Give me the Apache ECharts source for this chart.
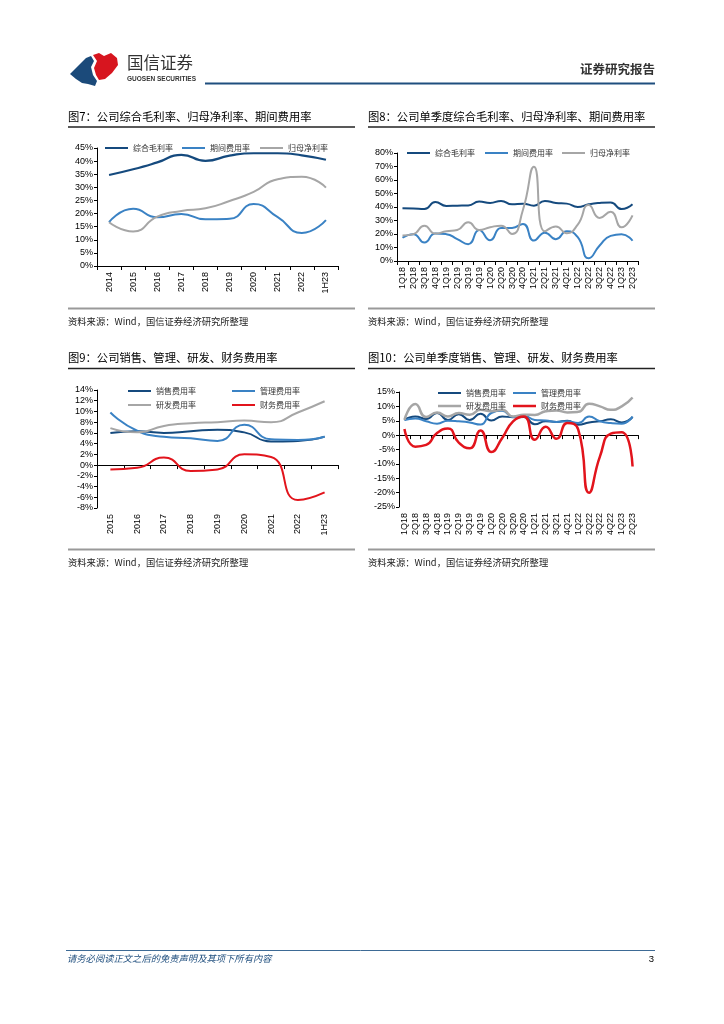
<!DOCTYPE html>
<html>
<head>
<meta charset="utf-8">
<script src="https://cdn.jsdelivr.net/npm/echarts@6/dist/echarts.min.js"></script>
<style>
html,body{margin:0;padding:0;background:#fff;}
#c{width:724px;height:1024px;}
</style>
</head>
<body>
<div id="c"></div>
<script>
// ---- Data ----
const cat7 = ['2014','2015','2016','2017','2018','2019','2020','2021','2022','1H23'];
const gross7 = [34.7, 36.9, 39.5, 42.4, 40.1, 42.1, 43.0, 43.0, 42.2, 40.5];
const expense7 = [16.7, 21.8, 18.6, 19.8, 17.8, 18.0, 23.6, 18.6, 12.6, 17.5];
const net7 = [16.7, 13.2, 18.8, 21.0, 22.0, 24.8, 28.3, 33.1, 34.0, 29.9];

const cat8 = ['1Q18','2Q18','3Q18','4Q18','1Q19','2Q19','3Q19','4Q19','1Q20','2Q20','3Q20','4Q20','1Q21','2Q21','3Q21','4Q21','1Q22','2Q22','3Q22','4Q22','1Q23','2Q23'];
const gross8 = [39.0, 38.8, 38.5, 43.7, 40.8, 41.0, 41.2, 44.0, 43.0, 44.5, 42.0, 42.5, 41.0, 44.5, 43.0, 42.5, 40.0, 42.0, 43.0, 43.3, 38.5, 42.0];
const expense8 = [17.2, 19.9, 13.7, 20.3, 19.9, 16.2, 12.5, 23.0, 15.4, 24.5, 24.5, 27.5, 15.2, 21.0, 16.2, 22.0, 17.6, 2.0, 11.5, 18.6, 19.9, 15.0];
const net8 = [18.9, 19.9, 26.2, 20.3, 22.0, 23.0, 28.7, 23.0, 25.0, 26.2, 20.0, 38.0, 69.8, 22.0, 25.5, 20.6, 27.0, 41.4, 31.9, 36.5, 25.0, 33.8];

const cat9 = ['2015','2016','2017','2018','2019','2020','2021','2022','1H23'];
const sales9 = [6.0, 6.3, 6.0, 6.3, 6.6, 6.1, 4.4, 4.5, 5.3];
const admin9 = [9.8, 6.4, 5.3, 5.0, 4.5, 7.5, 4.8, 4.7, 5.3];
const rd9 = [6.9, 6.1, 7.3, 7.8, 8.0, 8.3, 8.0, 9.8, 11.9];
const fin9 = [-0.8, -0.5, 1.4, -1.1, -0.8, 2.0, 1.5, -6.5, -5.1];

const cat10 = cat8;
const sales10 = [5.3, 6.5, 5.6, 7.7, 5.3, 7.3, 5.3, 7.4, 5.1, 6.5, 6.2, 6.3, 3.8, 4.8, 4.6, 5.0, 3.6, 4.4, 4.8, 5.5, 4.4, 6.3];
const admin10 = [5.2, 5.8, 4.8, 4.0, 5.0, 4.8, 4.4, 3.7, 7.7, 8.5, 6.3, 6.7, 5.3, 5.1, 4.6, 4.8, 4.2, 6.5, 4.8, 4.2, 4.0, 6.5];
const rd10 = [5.3, 10.8, 6.3, 7.9, 6.5, 7.7, 7.1, 8.8, 8.3, 8.8, 6.5, 7.1, 7.0, 8.3, 8.6, 7.9, 8.1, 10.9, 10.0, 8.8, 10.0, 13.1];
const fin10 = [2.1, -4.0, -3.4, 0.7, 2.3, -2.6, -4.6, 1.6, -5.9, -1.0, 4.8, 6.5, -1.6, 2.9, -1.3, 4.2, 1.9, -20.0, -7.4, 0.5, 1.0, -10.9];

// ---- Style ----
const C_DARK = '#154a7e', C_MID = '#3a82c4', C_GRAY = '#a6a6a6', C_RED = '#e2141c';
const AX_FONT = {fontFamily: 'Liberation Sans, Arial', fontSize: 9, color: '#000'};
const CJK = 'Noto Sans CJK SC';

const chart = echarts.init(document.getElementById('c'), null, {renderer: 'canvas'});

function grid(l, t, w, h) {
  return {left: l, top: t, width: w, height: h, containLabel: false, outerBoundsMode: 'none'};
}
function yAx(gi, min, max, interval) {
  return {
    type: 'value', gridIndex: gi, min: min, max: max, interval: interval,
    axisLine: {show: true, lineStyle: {color: '#000', width: 1}},
    axisTick: {show: true, length: 3, lineStyle: {color: '#000'}},
    splitLine: {show: false},
    axisLabel: Object.assign({formatter: '{value}%', margin: 4}, AX_FONT)
  };
}
function xAx(gi, data, withLabels, withLine, onZero) {
  return {
    type: 'category', gridIndex: gi, data: data, boundaryGap: true, position: 'bottom',
    axisLine: {show: withLine, onZero: onZero, lineStyle: {color: '#000', width: 1}},
    axisTick: {show: withLine, length: 4, lineStyle: {color: '#000'}},
    axisLabel: Object.assign({show: withLabels, rotate: 90, margin: 6, interval: 0}, AX_FONT),
    splitLine: {show: false}
  };
}
function ser(name, data, color, xi, yi, width) {
  return {
    type: 'line', name: name, data: data, xAxisIndex: xi, yAxisIndex: yi,
    smooth: 0.55, symbol: 'none', showSymbol: false,
    lineStyle: {color: color, width: width || 2}, itemStyle: {color: color},
    emphasis: {disabled: true}, z: 3
  };
}
function leg(name, left, cy, color, width) {
  const h = width || 2;
  return {
    data: [{name: name, icon: 'rect', itemStyle: {color: color, opacity: 1}}],
    left: left, top: cy - 4, itemWidth: 23, itemHeight: h,
    padding: 0, itemGap: 0, selectedMode: false,
    textStyle: {fontFamily: CJK, fontSize: 8, color: '#333', padding: [0, 0, 0, 0]}
  };
}

function txt(x, y, s, size, opts) {
  return {
    type: 'text', x: x, y: y,
    style: Object.assign({text: s, fontSize: size, fontFamily: CJK, fill: '#000', verticalAlign: 'middle', align: 'left'}, opts || {})
  };
}
function line(x1, y1, x2, y2, color, w) {
  return {type: 'line', shape: {x1: x1, y1: y1, x2: x2, y2: y2}, style: {stroke: color, lineWidth: w}};
}

const graphics = [
  // logo
  {type: 'polygon', shape: {points: [[70,74],[78,66],[86,58],[91,56],[94,61],[91,67],[93,75],[97,81],[95,86],[88,84],[82,83],[76,79]]}, style: {fill: '#1b4a7a'}},
  {type: 'polygon', shape: {points: [[93,55],[99,53],[104,56],[111,53],[117,58],[118,65],[112,73],[105,79],[99,80],[96,75],[94,68],[97,61]]}, style: {fill: '#d7151f'}},
  txt(127, 63, '国信证券', 16.5, {fill: '#333'}),
  txt(127, 79, 'GUOSEN SECURITIES', 6.5, {fill: '#333', fontFamily: 'Liberation Sans, Arial', fontWeight: 'bold'}),
  txt(655, 69, '证券研究报告', 12.5, {fill: '#333', align: 'right', fontWeight: 'bold'}),
  line(205, 83.5, 655, 83.5, '#1f4e7e', 2),

  // chart titles
  txt(68, 117, '图7：公司综合毛利率、归母净利率、期间费用率', 11.3),
  txt(368, 117, '图8：公司单季度综合毛利率、归母净利率、期间费用率', 11.3),
  line(68, 127, 355, 127, '#222', 1.5),
  line(368, 127, 655, 127, '#222', 1.5),
  txt(68, 358, '图9：公司销售、管理、研发、财务费用率', 11.3),
  txt(368, 358, '图10：公司单季度销售、管理、研发、财务费用率', 11.3),
  line(68, 368.5, 355, 368.5, '#222', 1.5),
  line(368, 368.5, 655, 368.5, '#222', 1.5),

  // source lines
  line(68, 308.5, 355, 308.5, '#999', 2),
  line(368, 308.5, 655, 308.5, '#999', 2),
  txt(68, 321, '资料来源：Wind，国信证券经济研究所整理', 9.3, {fill: '#222'}),
  txt(368, 321, '资料来源：Wind，国信证券经济研究所整理', 9.3, {fill: '#222'}),
  line(68, 549.5, 355, 549.5, '#999', 2),
  line(368, 549.5, 655, 549.5, '#999', 2),
  txt(68, 562, '资料来源：Wind，国信证券经济研究所整理', 9.3, {fill: '#222'}),
  txt(368, 562, '资料来源：Wind，国信证券经济研究所整理', 9.3, {fill: '#222'}),

  // footer
  line(66, 950.5, 655, 950.5, '#3d6a95', 1),
  txt(67, 958, '请务必阅读正文之后的免责声明及其项下所有内容', 9.3, {fill: '#1f4e7e', fontStyle: 'italic'}),
  txt(654, 959, '3', 9.5, {fill: '#000', align: 'right', fontFamily: 'Liberation Sans, Arial'})
];

const option = {
  animation: false,
  backgroundColor: '#fff',
  grid: [grid(97, 148, 241, 118), grid(397, 153, 241, 108), grid(97, 390, 241, 118), grid(399, 392, 239, 115)],
  xAxis: [
    xAx(0, cat7, true, true, true),
    xAx(1, cat8, true, true, true),
    xAx(2, cat9, false, true, true),
    xAx(2, cat9, true, false, false),
    xAx(3, cat10, false, true, true),
    xAx(3, cat10, true, false, false)
  ],
  yAxis: [yAx(0, 0, 45, 5), yAx(1, 0, 80, 10), yAx(2, -8, 14, 2), yAx(3, -25, 15, 5)],
  legend: [
    leg('综合毛利率', 105, 148, C_DARK, 2),
    leg('期间费用率', 182, 148, C_MID, 2),
    leg('归母净利率', 260, 148, C_GRAY, 2),
    leg('综合毛利率', 407, 153, C_DARK, 2),
    leg('期间费用率', 485, 153, C_MID, 2),
    leg('归母净利率', 562, 153, C_GRAY, 2),
    leg('销售费用率', 128, 391, C_DARK, 2),
    leg('管理费用率', 232, 391, C_MID, 2),
    leg('研发费用率', 128, 405, C_GRAY, 2),
    leg('财务费用率', 232, 405, C_RED, 2),
    leg('销售费用率', 438, 393, C_DARK, 2),
    leg('管理费用率', 513, 393, C_MID, 2),
    leg('研发费用率', 438, 406, C_GRAY, 2.5),
    leg('财务费用率', 513, 406, C_RED, 2.5)
  ],
  series: [
    ser('综合毛利率', gross7, C_DARK, 0, 0, 2.2),
    ser('期间费用率', expense7, C_MID, 0, 0, 2),
    ser('归母净利率', net7, C_GRAY, 0, 0, 2),
    ser('综合毛利率', gross8, C_DARK, 1, 1, 2),
    ser('期间费用率', expense8, C_MID, 1, 1, 2),
    ser('归母净利率', net8, C_GRAY, 1, 1, 2),
    ser('销售费用率', sales9, C_DARK, 2, 2, 2),
    ser('管理费用率', admin9, C_MID, 2, 2, 2),
    ser('研发费用率', rd9, C_GRAY, 2, 2, 2),
    ser('财务费用率', fin9, C_RED, 2, 2, 2),
    ser('销售费用率', sales10, C_DARK, 4, 3, 2),
    ser('管理费用率', admin10, C_MID, 4, 3, 2),
    ser('研发费用率', rd10, C_GRAY, 4, 3, 2.5),
    ser('财务费用率', fin10, C_RED, 4, 3, 2.5)
  ],
  graphic: graphics
};
chart.setOption(option);
</script>
</body>
</html>
